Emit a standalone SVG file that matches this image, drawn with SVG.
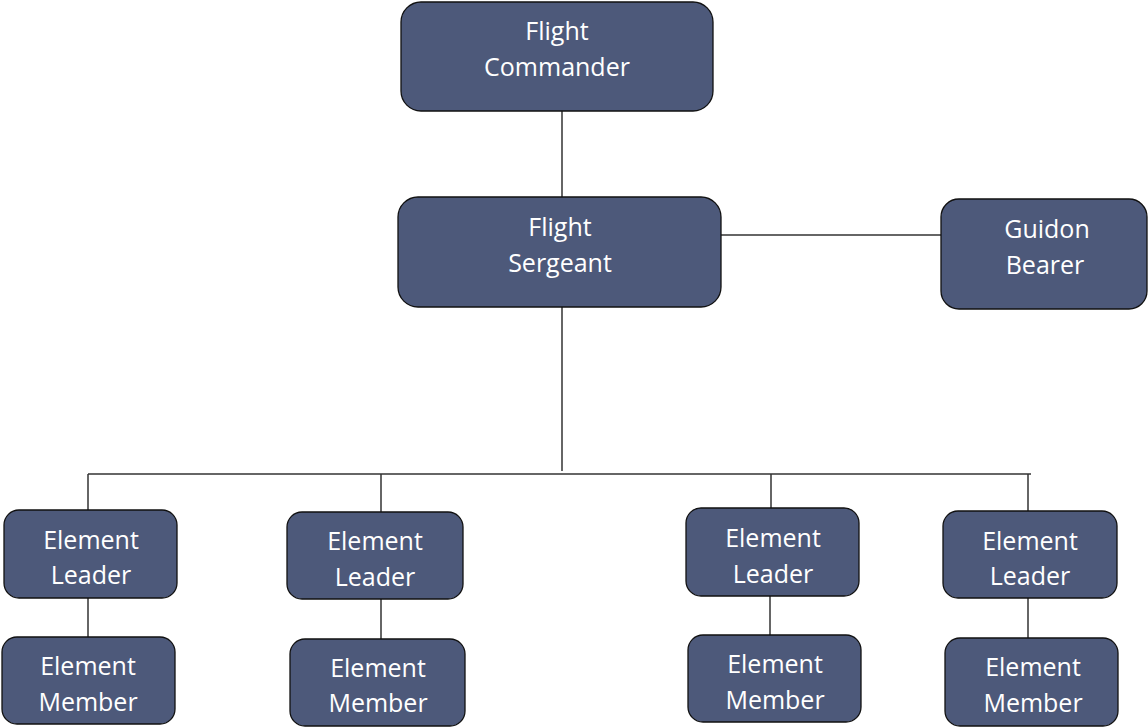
<svg xmlns="http://www.w3.org/2000/svg" width="1148" height="727" viewBox="0 0 1148 727">
<style>
.box{fill:#4d597a;stroke:#111;stroke-width:1.3}
.t{font-family:"Open Sans","Noto Sans",sans-serif;font-size:25px;fill:#fff;text-anchor:middle}
.c{stroke:#333;stroke-width:1.5;fill:none}
</style>
<rect width="1148" height="727" fill="#fff"/>
<g id="connectors">
<line class="c" x1="562" y1="111" x2="562" y2="197"/>
<line class="c" x1="721" y1="235" x2="941" y2="235"/>
<line class="c" x1="562" y1="307" x2="562" y2="471"/>
<line class="c" x1="88" y1="474" x2="1031" y2="474"/>
<line class="c" x1="88" y1="474" x2="88" y2="510"/>
<line class="c" x1="381" y1="474" x2="381" y2="512"/>
<line class="c" x1="771" y1="474" x2="771" y2="508"/>
<line class="c" x1="1028" y1="474" x2="1028" y2="511"/>
<line class="c" x1="88" y1="598" x2="88" y2="637"/>
<line class="c" x1="381" y1="599" x2="381" y2="639"/>
<line class="c" x1="770" y1="596" x2="770" y2="635"/>
<line class="c" x1="1028" y1="598" x2="1028" y2="638"/>
</g>
<g id="flight-commander">
<rect class="box" x="401" y="2" width="312" height="109" rx="20"/>
<text class="t" x="557" y="40">Flight</text>
<text class="t" x="557" y="76">Commander</text>
</g>
<g id="flight-sergeant">
<rect class="box" x="398" y="197" width="323" height="110" rx="20"/>
<text class="t" x="560" y="236">Flight</text>
<text class="t" x="560" y="272">Sergeant</text>
</g>
<g id="guidon-bearer">
<rect class="box" x="941" y="199" width="206" height="110" rx="18"/>
<text class="t" x="1047" y="238">Guidon</text>
<text class="t" x="1045" y="274">Bearer</text>
</g>
<g id="leader-1">
<rect class="box" x="4" y="510" width="173" height="88" rx="15"/>
<text class="t" x="91" y="549">Element</text>
<text class="t" x="91" y="584">Leader</text>
</g>
<g id="member-1">
<rect class="box" x="2" y="637" width="173" height="87" rx="15"/>
<text class="t" x="88" y="675">Element</text>
<text class="t" x="88" y="711">Member</text>
</g>
<g id="leader-2">
<rect class="box" x="287" y="512" width="176" height="87" rx="15"/>
<text class="t" x="375" y="550">Element</text>
<text class="t" x="375" y="586">Leader</text>
</g>
<g id="member-2">
<rect class="box" x="290" y="639" width="175" height="87" rx="15"/>
<text class="t" x="378" y="677">Element</text>
<text class="t" x="378" y="712">Member</text>
</g>
<g id="leader-3">
<rect class="box" x="686" y="508" width="173" height="88" rx="15"/>
<text class="t" x="773" y="547">Element</text>
<text class="t" x="773" y="583">Leader</text>
</g>
<g id="member-3">
<rect class="box" x="688" y="635" width="173" height="87" rx="15"/>
<text class="t" x="775" y="673">Element</text>
<text class="t" x="775" y="709">Member</text>
</g>
<g id="leader-4">
<rect class="box" x="943" y="511" width="174" height="87" rx="15"/>
<text class="t" x="1030" y="550">Element</text>
<text class="t" x="1030" y="585">Leader</text>
</g>
<g id="member-4">
<rect class="box" x="945" y="638" width="173" height="88" rx="15"/>
<text class="t" x="1033" y="676">Element</text>
<text class="t" x="1033" y="712">Member</text>
</g>
</svg>
